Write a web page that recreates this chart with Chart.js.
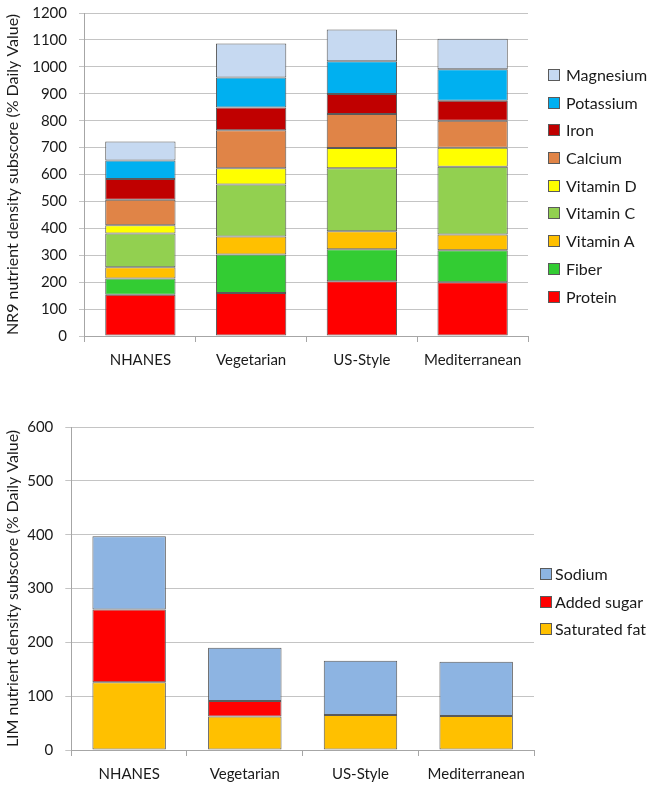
<!DOCTYPE html>
<html>
<head>
<meta charset="utf-8">
<script src="https://cdn.jsdelivr.net/npm/chart.js@4"></script>
<style>
  html, body { margin: 0; padding: 0; background: #fff; overflow: hidden; }
  #page { position: relative; width: 654px; height: 788px; overflow: hidden; font-family: Lato, "Open Sans", sans-serif; color: #1a1a1a; }
  .box { position: absolute; left: 0; width: 654px; }
  #nr9Box { top: -8px; height: 390px; }
  #limBox { top: 400px; height: 392px; }
  .legend { position: absolute; margin: 0; padding: 0; list-style: none; font-size: 16px; }
  .legend li { position: relative; height: 27.7px; line-height: 20px; white-space: nowrap; }
  .legend .swatch { position: absolute; left: 0; top: 4px; width: 10px; height: 10px; border: 1px solid #5a5a5a; }
  #nr9Legend { left: 548px; top: 65px; }
  #nr9Legend li { padding-left: 18px; }
  #limLegend { left: 540px; top: 564px; }
  #limLegend li { padding-left: 15px; }
</style>
</head>
<body>
<div id="page">
  <div class="box" id="nr9Box"><canvas id="nr9Chart"></canvas></div>
  <div class="box" id="limBox"><canvas id="limChart"></canvas></div>
  <ul class="legend" id="nr9Legend"></ul>
  <ul class="legend" id="limLegend"></ul>
</div>
<script>
// Diets on the x axis (same for both panels)
const diets = ['NHANES', 'Vegetarian', 'US-Style', 'Mediterranean'];

// NR9 panel, % Daily Value per nutrient (stack order bottom -> top)
const protein   = [153, 160, 203, 200];
const fiber     = [61, 143, 119, 119];
const vitaminA  = [41, 67, 67, 58];
const vitaminC  = [126, 193, 234, 252];
const vitaminD  = [30, 60, 75, 70];
const calcium   = [95, 141, 127, 101];
const iron      = [77, 85, 74, 74];
const potassium = [69, 111, 122, 117];
const magnesium = [71, 127, 118, 113];

// LIM panel
const saturatedFat = [126, 62, 65, 63];
const addedSugar   = [135, 29, 0, 0];
const sodium       = [136, 99, 101, 101];

const nr9Ticks = { max: 1200, step: 100 };
const limTicks = { max: 600, step: 100 };

const TEXT = '#1a1a1a';
const GRID = '#c4c4c4';
const EDGE = '#5a5a5a';
const AXIS = '#a6a6a6';

Chart.defaults.font.family = 'Lato, "Open Sans", sans-serif';
Chart.defaults.color = TEXT;

function series(label, data, color) {
  return {
    label: label,
    data: data,
    backgroundColor: color,
    borderColor: EDGE,
    borderWidth: ctx => (ctx.raw ? 1 : 0),
    borderSkipped: false,
    categoryPercentage: 1,
    barPercentage: 0.635
  };
}

function buildOptions(ticks, title, titleGap, padding) {
  return {
    responsive: true,
    maintainAspectRatio: false,
    animation: false,
    layout: { padding: padding },
    scales: {
      x: {
        stacked: true,
        offset: true,
        border: { color: AXIS },
        grid: { offset: true, drawOnChartArea: false, color: AXIS, tickLength: 6 },
        ticks: { font: { size: 15 }, color: TEXT, padding: 9 }
      },
      y: {
        stacked: true,
        min: 0,
        max: ticks.max,
        border: { color: AXIS },
        grid: { color: GRID, tickLength: 6 },
        ticks: { stepSize: ticks.step, font: { size: 15 }, color: TEXT, padding: 12, callback: v => String(v) },
        title: { display: true, text: title, font: { size: 16 }, color: TEXT, padding: { top: 0, bottom: titleGap } }
      }
    },
    plugins: {
      legend: { display: false },
      tooltip: { enabled: false }
    }
  };
}

// Legend list on the right, top entry = top of the stack
function buildLegend(chart, listId) {
  const list = document.getElementById(listId);
  chart.data.datasets.slice().reverse().forEach(ds => {
    const item = document.createElement('li');
    const swatch = document.createElement('span');
    swatch.className = 'swatch';
    swatch.style.background = ds.backgroundColor;
    item.appendChild(swatch);
    item.appendChild(document.createTextNode(ds.label));
    list.appendChild(item);
  });
}

const nr9Chart = new Chart(document.getElementById('nr9Chart').getContext('2d'), {
  type: 'bar',
  data: {
    labels: diets,
    datasets: [
      series('Protein', protein, '#ff0000'),
      series('Fiber', fiber, '#33cc33'),
      series('Vitamin A', vitaminA, '#ffc000'),
      series('Vitamin C', vitaminC, '#92d050'),
      series('Vitamin D', vitaminD, '#ffff00'),
      series('Calcium', calcium, '#e08447'),
      series('Iron', iron, '#c00000'),
      series('Potassium', potassium, '#00b0f0'),
      series('Magnesium', magnesium, '#c6d9f1')
    ]
  },
  options: buildOptions(nr9Ticks, 'NR9 nutrient density subscore (% Daily Value)', -2,
    { top: 0, right: 126, left: 3, bottom: 4 })
});

const limChart = new Chart(document.getElementById('limChart').getContext('2d'), {
  type: 'bar',
  data: {
    labels: diets,
    datasets: [
      series('Saturated fat', saturatedFat, '#ffc000'),
      series('Added sugar', addedSugar, '#ff0000'),
      series('Sodium', sodium, '#8db4e2')
    ]
  },
  options: buildOptions(limTicks, 'LIM nutrient density subscore (% Daily Value)', -7,
    { top: 27, right: 120, left: 3, bottom: 0 })
});

buildLegend(nr9Chart, 'nr9Legend');
buildLegend(limChart, 'limLegend');
</script>
</body>
</html>
